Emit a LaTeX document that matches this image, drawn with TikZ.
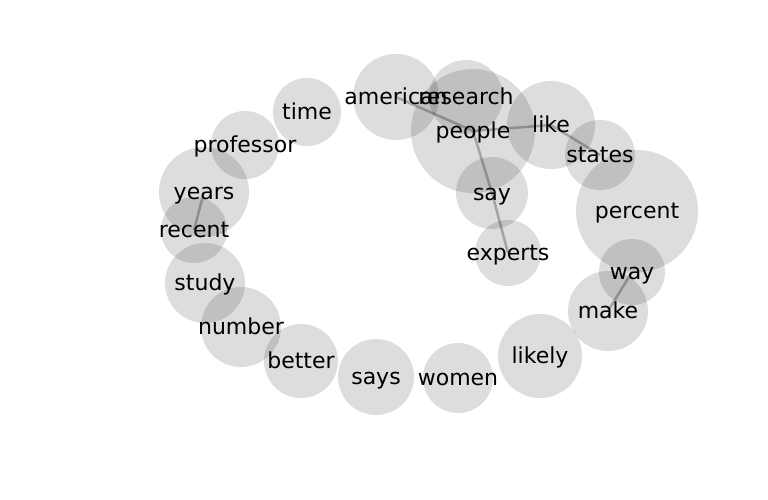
\documentclass[tikz,border=0pt]{standalone}
\usepackage{fontspec}
\setmainfont{DejaVu Sans}
\begin{document}
\begin{tikzpicture}[x=1pt,y=-1pt,
  bub/.style={circle,fill=black,fill opacity=0.135,draw=none,inner sep=0pt,minimum size=#1},
  edge/.style={draw=black,draw opacity=0.26,line width=2.5pt},
  word/.style={text=black,font=\fontsize{22}{26}\selectfont,inner sep=0pt,anchor=center,yshift=-2.5pt}]
\useasboundingbox (0,0) rectangle (768,500);
\foreach \n/\x/\y/\r in {american/396/97/43, research/466/97/37, people/473/131/62,
  like/551/125/44, states/600/155/35, percent/637/211/61, say/492/193/36,
  experts/508/253/33, way/632/272/33, make/608/311/40, likely/540/356/42,
  women/458/378/35, says/376/377/38, better/301/361/37, number/241/327/40,
  study/205/283/40, recent/194/230/33, years/204/192/45, professor/245/145/34,
  time/307/112/34}{
  \node[bub=2*\r] (\n) at (\x,\y) {};
}
\draw[edge] (american.center) -- (people.center);
\draw[edge] (people.center) -- (like.center);
\draw[edge] (like.center) -- (states.center);
\draw[edge] (people.center) -- (say.center);
\draw[edge] (say.center) -- (experts.center);
\draw[edge] (years.center) -- (recent.center);
\draw[edge] (way.center) -- (make.center);
\foreach \n in {american, research, people, like, states, percent, say, experts,
  way, make, likely, women, says, better, number, study, recent, years, professor, time}{
  \node[word] (t-\n) at (\n.center) {\strut\n};
}
\end{tikzpicture}
\end{document}
